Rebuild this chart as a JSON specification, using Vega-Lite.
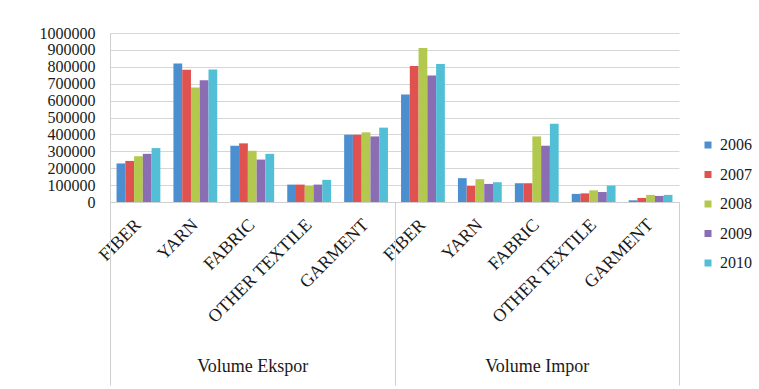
{
  "$schema": "https://vega.github.io/schema/vega-lite/v6.json",
  "autosize": "none",
  "width": 569,
  "height": 169,
  "padding": {"left": 110, "top": 33, "right": 80, "bottom": 187},
  "background": "white",
  "config": {
    "font": "Liberation Serif",
    "view": {"stroke": null},
    "axis": {"labelFont": "Liberation Serif", "labelColor": "#1a1a1a", "titleFont": "Liberation Serif"},
    "legend": {"labelFont": "Liberation Serif"}
  },
  "datasets": {
    "textile": [
      {"flow": "Volume Ekspor", "category": "FIBER", "year": "2006", "volume": 228000},
      {"flow": "Volume Ekspor", "category": "FIBER", "year": "2007", "volume": 243000},
      {"flow": "Volume Ekspor", "category": "FIBER", "year": "2008", "volume": 271000},
      {"flow": "Volume Ekspor", "category": "FIBER", "year": "2009", "volume": 285000},
      {"flow": "Volume Ekspor", "category": "FIBER", "year": "2010", "volume": 319000},
      {"flow": "Volume Ekspor", "category": "YARN", "year": "2006", "volume": 820000},
      {"flow": "Volume Ekspor", "category": "YARN", "year": "2007", "volume": 782000},
      {"flow": "Volume Ekspor", "category": "YARN", "year": "2008", "volume": 677000},
      {"flow": "Volume Ekspor", "category": "YARN", "year": "2009", "volume": 721000},
      {"flow": "Volume Ekspor", "category": "YARN", "year": "2010", "volume": 784000},
      {"flow": "Volume Ekspor", "category": "FABRIC", "year": "2006", "volume": 333000},
      {"flow": "Volume Ekspor", "category": "FABRIC", "year": "2007", "volume": 347000},
      {"flow": "Volume Ekspor", "category": "FABRIC", "year": "2008", "volume": 303000},
      {"flow": "Volume Ekspor", "category": "FABRIC", "year": "2009", "volume": 251000},
      {"flow": "Volume Ekspor", "category": "FABRIC", "year": "2010", "volume": 285000},
      {"flow": "Volume Ekspor", "category": "OTHER TEXTILE", "year": "2006", "volume": 103000},
      {"flow": "Volume Ekspor", "category": "OTHER TEXTILE", "year": "2007", "volume": 103000},
      {"flow": "Volume Ekspor", "category": "OTHER TEXTILE", "year": "2008", "volume": 95000},
      {"flow": "Volume Ekspor", "category": "OTHER TEXTILE", "year": "2009", "volume": 103000},
      {"flow": "Volume Ekspor", "category": "OTHER TEXTILE", "year": "2010", "volume": 131000},
      {"flow": "Volume Ekspor", "category": "GARMENT", "year": "2006", "volume": 398000},
      {"flow": "Volume Ekspor", "category": "GARMENT", "year": "2007", "volume": 398000},
      {"flow": "Volume Ekspor", "category": "GARMENT", "year": "2008", "volume": 412000},
      {"flow": "Volume Ekspor", "category": "GARMENT", "year": "2009", "volume": 388000},
      {"flow": "Volume Ekspor", "category": "GARMENT", "year": "2010", "volume": 440000},
      {"flow": "Volume Impor", "category": "FIBER", "year": "2006", "volume": 636000},
      {"flow": "Volume Impor", "category": "FIBER", "year": "2007", "volume": 804000},
      {"flow": "Volume Impor", "category": "FIBER", "year": "2008", "volume": 911000},
      {"flow": "Volume Impor", "category": "FIBER", "year": "2009", "volume": 749000},
      {"flow": "Volume Impor", "category": "FIBER", "year": "2010", "volume": 816000},
      {"flow": "Volume Impor", "category": "YARN", "year": "2006", "volume": 141000},
      {"flow": "Volume Impor", "category": "YARN", "year": "2007", "volume": 95000},
      {"flow": "Volume Impor", "category": "YARN", "year": "2008", "volume": 135000},
      {"flow": "Volume Impor", "category": "YARN", "year": "2009", "volume": 107000},
      {"flow": "Volume Impor", "category": "YARN", "year": "2010", "volume": 117000},
      {"flow": "Volume Impor", "category": "FABRIC", "year": "2006", "volume": 111000},
      {"flow": "Volume Impor", "category": "FABRIC", "year": "2007", "volume": 111000},
      {"flow": "Volume Impor", "category": "FABRIC", "year": "2008", "volume": 388000},
      {"flow": "Volume Impor", "category": "FABRIC", "year": "2009", "volume": 333000},
      {"flow": "Volume Impor", "category": "FABRIC", "year": "2010", "volume": 463000},
      {"flow": "Volume Impor", "category": "OTHER TEXTILE", "year": "2006", "volume": 48000},
      {"flow": "Volume Impor", "category": "OTHER TEXTILE", "year": "2007", "volume": 51000},
      {"flow": "Volume Impor", "category": "OTHER TEXTILE", "year": "2008", "volume": 69000},
      {"flow": "Volume Impor", "category": "OTHER TEXTILE", "year": "2009", "volume": 59000},
      {"flow": "Volume Impor", "category": "OTHER TEXTILE", "year": "2010", "volume": 97000},
      {"flow": "Volume Impor", "category": "GARMENT", "year": "2006", "volume": 10000},
      {"flow": "Volume Impor", "category": "GARMENT", "year": "2007", "volume": 24000},
      {"flow": "Volume Impor", "category": "GARMENT", "year": "2008", "volume": 42000},
      {"flow": "Volume Impor", "category": "GARMENT", "year": "2009", "volume": 36000},
      {"flow": "Volume Impor", "category": "GARMENT", "year": "2010", "volume": 42000}
    ],
    "flows": [
      {"flow": "Volume Ekspor"},
      {"flow": "Volume Impor"}
    ]
  },
  "layer": [
    {
      "data": {"name": "textile"},
      "transform": [
        {"calculate": "datum.flow + '|' + datum.category", "as": "slot"}
      ],
      "mark": {"type": "bar"},
      "encoding": {
        "x": {
          "field": "slot",
          "type": "nominal",
          "sort": [
            "Volume Ekspor|FIBER", "Volume Ekspor|YARN", "Volume Ekspor|FABRIC", "Volume Ekspor|OTHER TEXTILE", "Volume Ekspor|GARMENT",
            "Volume Impor|FIBER", "Volume Impor|YARN", "Volume Impor|FABRIC", "Volume Impor|OTHER TEXTILE", "Volume Impor|GARMENT"
          ],
          "scale": {"paddingInner": 0.23, "paddingOuter": 0.115},
          "axis": {
            "orient": "bottom",
            "title": null,
            "labelExpr": "split(datum.value, '|')[1]",
            "labelAngle": -45,
            "labelAlign": "right",
            "labelBaseline": "middle",
            "labelFontSize": 18,
            "labelPadding": 20,
            "labelOverlap": false,
            "labelLimit": 0,
            "labelBound": false,
            "ticks": false,
            "domain": true,
            "domainColor": "#cfcfcf",
            "grid": false
          }
        },
        "xOffset": {
          "field": "year",
          "type": "nominal",
          "scale": {"paddingInner": 0, "paddingOuter": 0}
        },
        "y": {
          "field": "volume",
          "type": "quantitative",
          "scale": {"domain": [0, 1000000], "nice": false},
          "axis": {
            "title": null,
            "values": [0, 100000, 200000, 300000, 400000, 500000, 600000, 700000, 800000, 900000, 1000000],
            "format": "d",
            "labelFontSize": 16,
            "labelPadding": 15,
            "labelOverlap": false,
            "labelBound": false,
            "ticks": false,
            "domain": true,
            "domainColor": "#cfcfcf",
            "grid": true,
            "gridColor": "#d6d6d6",
            "gridWidth": 1
          }
        },
        "color": {
          "field": "year",
          "type": "nominal",
          "scale": {
            "domain": ["2006", "2007", "2008", "2009", "2010"],
            "range": ["#4b8fd0", "#e05250", "#b3c94d", "#8a6db3", "#52bfd6"]
          },
          "legend": {
            "title": null,
            "orient": "none",
            "legendX": 590,
            "legendY": 104,
            "symbolType": "square",
            "symbolSize": 49,
            "symbolStrokeWidth": 0,
            "labelFontSize": 16,
            "labelColor": "#1a1a1a",
            "labelOffset": 4,
            "labelLimit": 0,
            "rowPadding": 13.5
          }
        }
      }
    },
    {
      "data": {"name": "flows"},
      "mark": {"type": "rule", "opacity": 0},
      "encoding": {
        "x": {
          "field": "flow",
          "type": "nominal",
          "scale": {"type": "band", "paddingInner": 0, "paddingOuter": 0},
          "axis": {
            "orient": "bottom",
            "title": null,
            "tickBand": "extent",
            "ticks": true,
            "tickSize": 183,
            "tickColor": "#cfcfcf",
            "tickWidth": 1,
            "domain": false,
            "grid": false,
            "labelAngle": 0,
            "labelAlign": "center",
            "labelBaseline": "top",
            "labelFontSize": 18,
            "labelPadding": -28,
            "labelColor": "#1a1a1a"
          }
        }
      }
    }
  ],
  "resolve": {"scale": {"x": "independent"}, "axis": {"x": "independent"}}
}
